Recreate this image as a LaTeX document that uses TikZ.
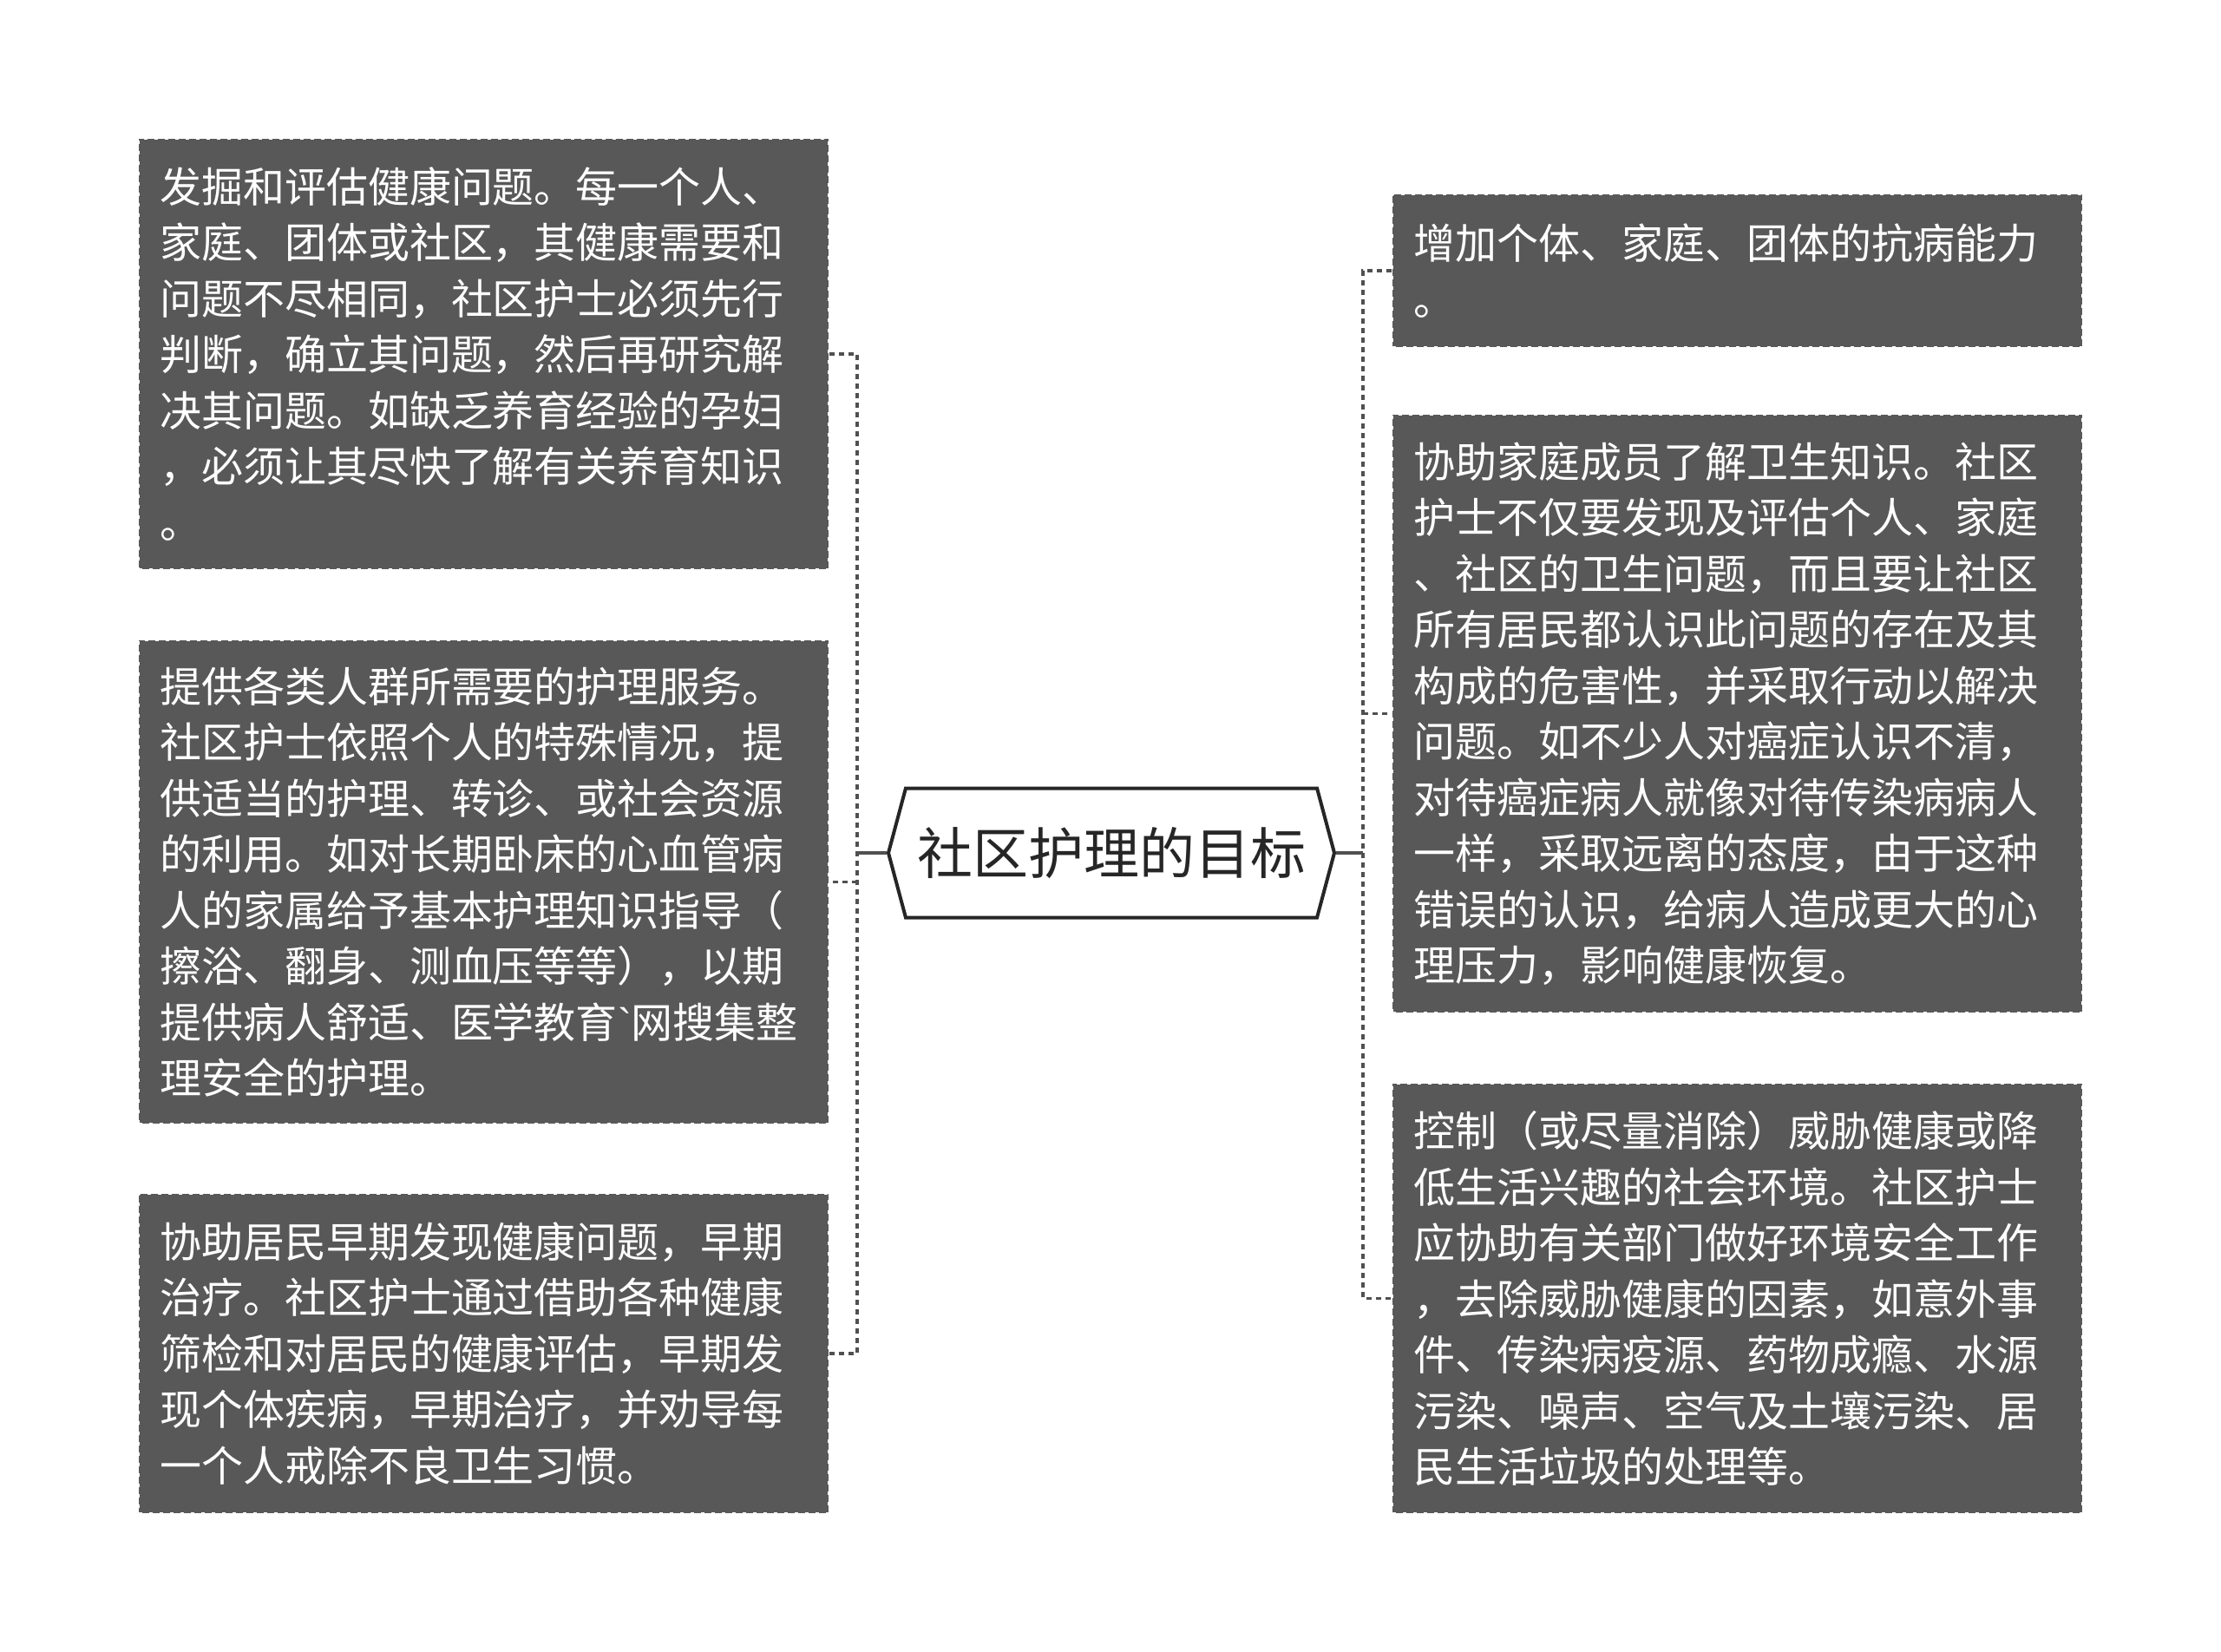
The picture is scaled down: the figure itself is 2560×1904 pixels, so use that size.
\documentclass[tikz,border=0pt]{standalone}
\usepackage{fontspec}
\newfontfamily\cjk{Noto Sans CJK SC}
\newfontfamily\latin{Liberation Sans}
\usetikzlibrary{shapes.symbols}
\definecolor{cardgray}{HTML}{585858}
\definecolor{linegray}{HTML}{505050}
\definecolor{inkgray}{HTML}{262626}

\begin{document}
\begin{tikzpicture}[
  x=0.5pt, y=-0.5pt,
  card/.style={rectangle, fill=cardgray, draw=white, line width=1pt, dash pattern=on 2pt off 4pt,
    text=white, font=\cjk\fontsize{24}{32.25}\selectfont, align=left,
    text width=373.5pt, minimum width=397.5pt, inner xsep=12pt, inner ysep=8pt},
  core/.style={shape=signal, signal to=west and east, signal pointer angle=150, draw=inkgray,
    line width=2pt, fill=white, text=inkgray, font=\cjk\fontsize{32}{38}\selectfont,
    minimum width=257pt, minimum height=74.5pt, inner sep=2pt},
  stem/.style={draw=linegray, line width=1.8pt},
  branch/.style={draw=linegray, line width=1.8pt, dash pattern=on 3pt off 2.5pt}
]
\useasboundingbox (0,0) rectangle (2560,1904);

% centre
\node[core] (goal) at (1281,983) {社区护理的目标};

% left column
\node[card, minimum height=248pt] (l1) at (557.5,408) {发掘和评估健康问题。每一个人、\\家庭、团体或社区，其健康需要和\\问题不尽相同，社区护士必须先行\\判断，确立其问题，然后再研究解\\决其问题。如缺乏养育经验的孕妇\\，必须让其尽快了解有关养育知识\\。};
\node[card, minimum height=278.5pt] (l2) at (557.5,1016.5) {提供各类人群所需要的护理服务。\\社区护士依照个人的特殊情况，提\\供适当的护理、转诊、或社会资源\\的利用。如对长期卧床的心血管病\\人的家属给予基本护理知识指导（\\擦浴、翻身、测血压等等），以期\\提供病人舒适、医学教育{\latin\char"60}网搜集整\\理安全的护理。};
\node[card, minimum height=184pt] (l3) at (557.5,1560) {协助居民早期发现健康问题，早期\\治疗。社区护士通过借助各种健康\\筛检和对居民的健康评估，早期发\\现个体疾病，早期治疗，并劝导每\\一个人戒除不良卫生习惯。};

% right column
\node[card, minimum height=88pt] (r1) at (2002.5,312) {增加个体、家庭、团体的抗病能力\\。};
\node[card, minimum height=344.5pt] (r2) at (2002.5,822.5) {协助家庭成员了解卫生知识。社区\\护士不仅要发现及评估个人、家庭\\、社区的卫生问题，而且要让社区\\所有居民都认识此问题的存在及其\\构成的危害性，并采取行动以解决\\问题。如不少人对癌症认识不清，\\对待癌症病人就像对待传染病病人\\一样，采取远离的态度，由于这种\\错误的认识，给病人造成更大的心\\理压力，影响健康恢复。};
\node[card, minimum height=247.5pt] (r3) at (2002.5,1496.5) {控制（或尽量消除）威胁健康或降\\低生活兴趣的社会环境。社区护士\\应协助有关部门做好环境安全工作\\，去除威胁健康的因素，如意外事\\件、传染病疫源、药物成瘾、水源\\污染、噪声、空气及土壤污染、居\\民生活垃圾的处理等。};

% connectors
\coordinate (lspine) at (988,983);
\coordinate (rspine) at (1571,983);
\draw[stem] (goal.west) -- (lspine);
\draw[stem] (goal.east) -- (rspine);
\draw[branch] (l1.east) -| (lspine) |- (l3.east);
\draw[branch] (lspine |- l2.east) -- (l2.east);
\draw[branch] (r1.west) -| (rspine) |- (r3.west);
\draw[branch] (rspine |- r2.west) -- (r2.west);
\end{tikzpicture}
\end{document}
